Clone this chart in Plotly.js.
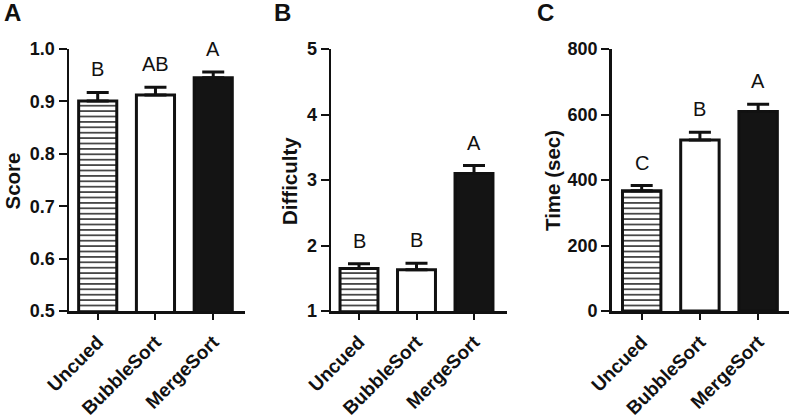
<!DOCTYPE html>
<html>
<head>
<meta charset="utf-8">
<script src="https://cdn.plot.ly/plotly-3.0.1.min.js"></script>
<style>html,body{margin:0;padding:0;background:#fff;}#chart{width:789px;height:418px;}</style>
</head>
<body>
<div id="chart"></div>
<script>
const categories = ['Uncued', 'BubbleSort', 'MergeSort'];
const scoreMean = [0.901, 0.912, 0.945];
const scoreErr = [0.016, 0.015, 0.011];
const scoreLetters = ['B', 'AB', 'A'];
const difficultyMean = [1.65, 1.63, 3.10];
const difficultyErr = [0.07, 0.10, 0.12];
const difficultyLetters = ['B', 'B', 'A'];
const timeMean = [367, 522, 609];
const timeErr = [16, 24, 22];
const timeLetters = ['C', 'B', 'A'];
const scoreTicks = [0.5, 0.6, 0.7, 0.8, 0.9, 1.0];
const difficultyTicks = [1, 2, 3, 4, 5];
const timeTicks = [0, 200, 400, 600, 800];
const panelLabels = ['A', 'B', 'C'];
const axisTitles = ['Score', 'Difficulty', 'Time (sec)'];

const W = 789, H = 418;
const FONT = 'Liberation Sans, Arial, Helvetica, sans-serif';
const INK = '#111111';
const fills = ['#ffffff', '#ffffff', '#141414'];
const shapes = ['-', '', ''];

const data = [];
const groups = [
  {means: scoreMean, errs: scoreErr, letters: scoreLetters, xr: 'x', yr: 'y'},
  {means: difficultyMean, errs: difficultyErr, letters: difficultyLetters, xr: 'x2', yr: 'y2'},
  {means: timeMean, errs: timeErr, letters: timeLetters, xr: 'x3', yr: 'y3'}
];
groups.forEach(g => {
  categories.forEach((c, i) => {
    const marker = {color: fills[i], line: {color: INK, width: 3}};
    if (shapes[i]) {
      marker.pattern = {shape: shapes[i], size: 5.4, solidity: 0.3, fgcolor: '#333333', bgcolor: '#ffffff', fgopacity: 1};
    }
    data.push({
      type: 'bar', x: [c], y: [g.means[i]], xaxis: g.xr, yaxis: g.yr,
      width: 0.66, marker: marker,
      error_y: {type: 'data', symmetric: false, array: [g.errs[i]], arrayminus: [0], color: INK, thickness: 3, width: 11},
      hoverinfo: 'skip', showlegend: false
    });
  });
});

const yTop = 1 - 49 / H, yBot = 1 - 311 / H;

function xAxis(domain, range, anchor) {
  return {
    domain: domain, range: range, anchor: anchor, type: 'category',
    categoryorder: 'array', categoryarray: categories,
    showline: true, linewidth: 2.5, linecolor: INK,
    showgrid: false, zeroline: false,
    ticks: 'outside', ticklen: 6, tickwidth: 2, tickcolor: INK,
    tickangle: -45, ticklabelstandoff: 4,
    tickfont: {family: FONT, size: 19, weight: 'bold', color: INK},
    fixedrange: true
  };
}
function yAxis(range, ticks, fmt, anchor) {
  return {
    domain: [yBot, yTop], range: range, anchor: anchor,
    tickmode: 'array', tickvals: ticks, tickformat: fmt,
    showline: true, linewidth: 2.5, linecolor: INK,
    showgrid: false, zeroline: false,
    ticks: 'outside', ticklen: 8, tickwidth: 2, tickcolor: INK,
    tickfont: {family: FONT, size: 18, weight: 'bold', color: INK},
    fixedrange: true
  };
}

const annotations = [];
groups.forEach(g => {
  categories.forEach((c, i) => {
    annotations.push({
      xref: g.xr, yref: g.yr, x: c, y: g.means[i] + g.errs[i],
      text: g.letters[i], showarrow: false, yanchor: 'middle', yshift: 23,
      font: {family: FONT, size: 20, color: INK}
    });
  });
});
const letterX = [12, 282.5, 545.5];
panelLabels.forEach((t, i) => {
  annotations.push({
    xref: 'paper', yref: 'paper', x: letterX[i] / W, y: 1 - 13 / H,
    text: t, showarrow: false, xanchor: 'center', yanchor: 'middle',
    font: {family: FONT, size: 24, weight: 'bold', color: INK}
  });
});
const titleX = [11.5, 289, 552];
axisTitles.forEach((t, i) => {
  annotations.push({
    xref: 'paper', yref: 'paper', x: titleX[i] / W, y: 1 - 181 / H,
    text: t, showarrow: false, textangle: -90, xanchor: 'center', yanchor: 'middle',
    font: {family: FONT, size: 20.5, weight: 'bold', color: INK}
  });
});

const layout = {
  width: W, height: H,
  margin: {l: 0, r: 0, t: 0, b: 0, pad: 0},
  paper_bgcolor: '#ffffff', plot_bgcolor: 'rgba(0,0,0,0)',
  showlegend: false,
  barmode: 'overlay',
  xaxis: xAxis([69 / W, 245 / W], [-0.497, 2.55], 'y'),
  yaxis: yAxis([0.5, 1.0], scoreTicks, '.1f', 'x'),
  xaxis2: xAxis([331 / W, 507 / W], [-0.487, 2.574], 'y2'),
  yaxis2: yAxis([1, 5], difficultyTicks, 'd', 'x2'),
  xaxis3: xAxis([611.7 / W, 1.0], [-0.515, 2.53], 'y3'),
  yaxis3: yAxis([0, 800], timeTicks, 'd', 'x3'),
  annotations: annotations
};

Plotly.newPlot('chart', data, layout, {displayModeBar: false, staticPlot: true});
</script>
</body>
</html>
